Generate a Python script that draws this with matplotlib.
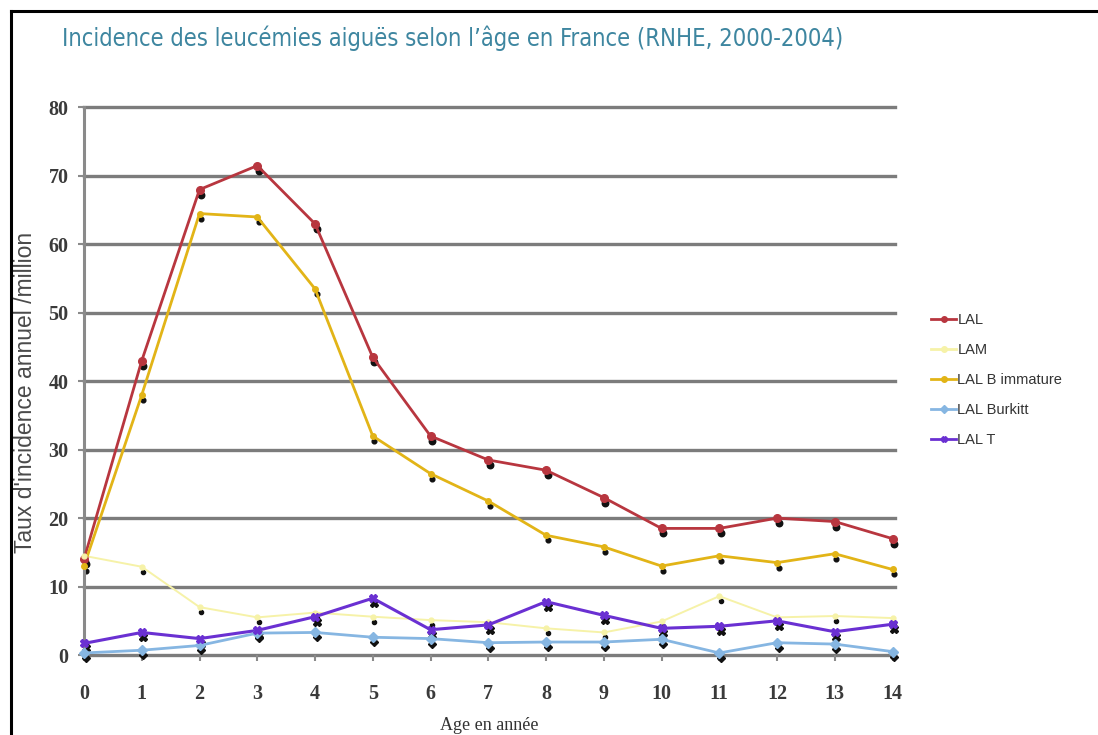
import matplotlib
matplotlib.use('Agg')
import matplotlib.pyplot as plt
import matplotlib.transforms as mtrans
from matplotlib.lines import Line2D

ages = list(range(15))

lal = [14, 43, 68, 71.5, 63, 43.5, 32, 28.5, 27, 23, 18.5, 18.5, 20, 19.5, 17]
lam = [14.5, 12.9, 7.0, 5.5, 6.2, 5.6, 5.1, 4.8, 3.9, 3.3, 4.9, 8.6, 5.5, 5.7, 5.4]
lal_b = [13, 38, 64.5, 64, 53.5, 32, 26.5, 22.5, 17.5, 15.8, 13, 14.5, 13.5, 14.8, 12.5]
lal_burkitt = [0.3, 0.7, 1.4, 3.2, 3.3, 2.6, 2.4, 1.8, 1.9, 1.9, 2.3, 0.3, 1.8, 1.6, 0.5]
lal_t = [1.7, 3.3, 2.4, 3.6, 5.6, 8.3, 3.7, 4.4, 7.8, 5.8, 3.9, 4.2, 5.0, 3.4, 4.5]

series = [
    ('LAL', lal, '#b8363f', 'o', 5.5, 2.0),
    ('LAM', lam, '#f6f2a8', 'o', 3.5, 1.4),
    ('LAL B immature', lal_b, '#e2b417', 'o', 4, 2.0),
    ('LAL Burkitt', lal_burkitt, '#86b6e2', 'D', 5, 2.0),
    ('LAL T', lal_t, '#6a30d2', 'X', 6, 2.2),
]

fig = plt.figure(figsize=(10.98, 7.35), dpi=100)
fig.patch.set_facecolor('white')

# outer frame (top and left only)
fig.add_artist(Line2D([11 / 1098, 1.0], [1 - 11 / 735] * 2, color='black', lw=2.2,
                      transform=fig.transFigure))
fig.add_artist(Line2D([11 / 1098] * 2, [0, 1 - 11 / 735], color='black', lw=2.2,
                      transform=fig.transFigure))

ax = fig.add_axes([0.0765, 0.1088, 0.739, 0.745])
ax.set_xlim(0, 14.05)
ax.set_ylim(0, 80)

for y in range(0, 81, 10):
    ax.axhline(y, color='#7c7c7c', lw=2.4, zorder=1, clip_on=False)

# dark marker "shadows", slightly below and right of each point
shadow_tr = ax.transData + mtrans.ScaledTranslation(1.2 / 72, -3.6 / 72, fig.dpi_scale_trans)

handles = []
for name, vals, col, mk, ms, lw in series:
    ax.plot(ages, vals, linestyle='none', marker=mk, ms=ms * 0.85, color='#111111',
            zorder=2.5, clip_on=False, transform=shadow_tr)
    ax.plot(ages, vals, color=col, lw=lw, zorder=3, clip_on=False)
    ax.plot(ages, vals, linestyle='none', marker=mk, ms=ms, color=col,
            markeredgecolor=col, zorder=4, clip_on=False)
    handles.append(Line2D([], [], color=col, lw=2, marker=mk, ms=4))

for side in ('top', 'right', 'bottom'):
    ax.spines[side].set_visible(False)
ax.spines['left'].set_color('#8a8a8a')
ax.spines['left'].set_linewidth(2.2)

ax.set_xticks(ages)
ax.set_yticks(range(0, 81, 10))
ax.tick_params(axis='both', colors='#8a8a8a', width=1.5, length=4,
               labelcolor='#3a3a3a', labelsize=14.5)
for lab in ax.get_xticklabels() + ax.get_yticklabels():
    lab.set_fontfamily('Liberation Serif')
    lab.set_fontweight('bold')
ax.tick_params(axis='y', pad=7)
ax.tick_params(axis='x', pad=17)

ax.set_xlabel('Age en année', family='Liberation Serif', fontsize=13, color='#333333')
ax.xaxis.set_label_coords(0.5, -0.113)
ax.set_ylabel("Taux d'incidence annuel /million", family='Liberation Sans', fontsize=16.5,
              color='#4a4a4a')
ax.yaxis.set_label_coords(-0.058, 0.48)

fig.text(62 / 1098, 1 - 38 / 735,
         "Incidence des leucémies aiguës selon l\u2019âge en France (RNHE, 2000-2004)",
         family='DejaVu Sans', fontstretch='condensed', fontsize=17, color='#3e86a0',
         ha='left', va='center')

leg = fig.legend(handles, [s[0] for s in series], loc='upper left',
                 bbox_to_anchor=(918 / 1098, 1 - 300 / 735), frameon=False,
                 prop={'family': 'Liberation Sans', 'size': 10.5}, handlelength=1.7,
                 handletextpad=0.1, labelspacing=1.1)
for t in leg.get_texts():
    t.set_color('#333333')

fig.savefig('out.png', dpi=100)
